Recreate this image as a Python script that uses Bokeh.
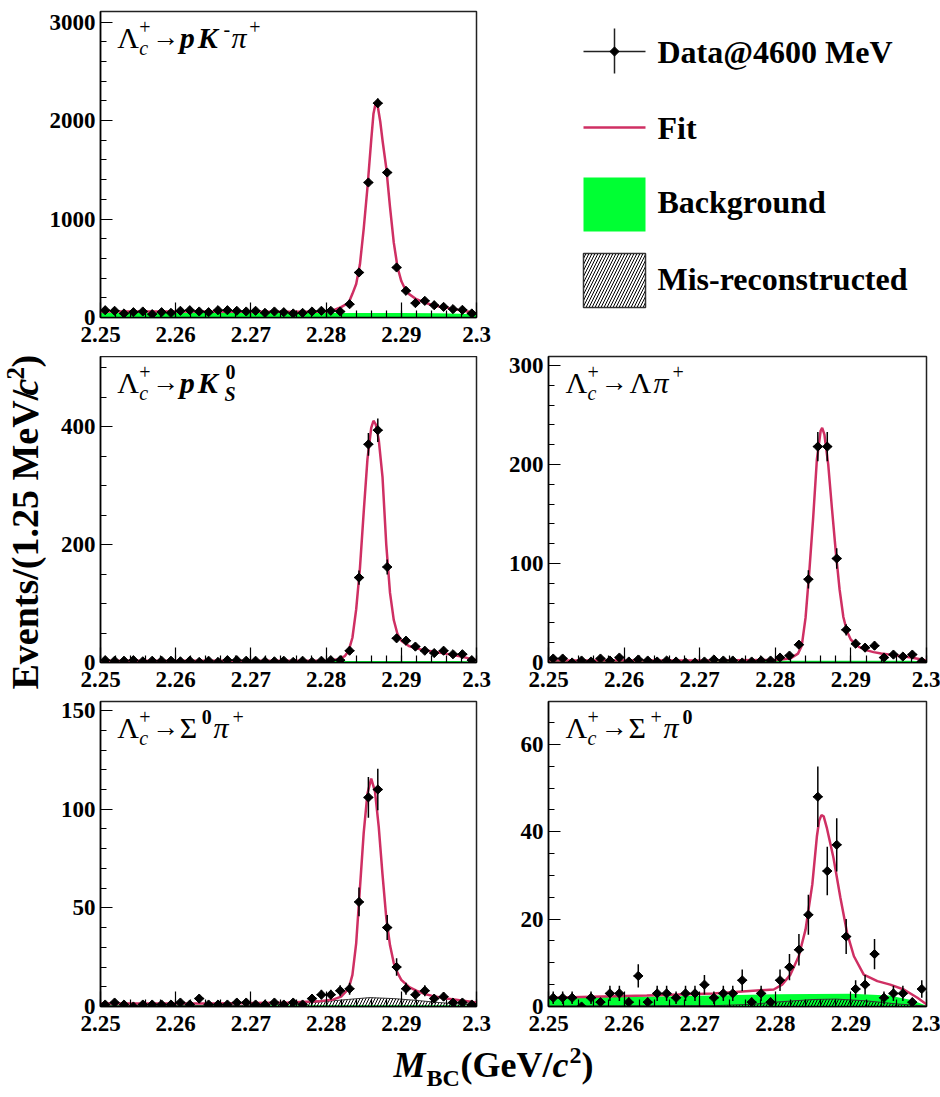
import numpy as np
from math import pi

from bokeh.plotting import figure
from bokeh.layouts import column, row
from bokeh.models import Range1d, FixedTicker, CustomJSTickFormatter, Label
from bokeh.embed import file_html
from bokeh.resources import INLINE

# ---------------- binning (1.25 MeV bins) ----------------
M_LO, M_HI = 2.25, 2.30
N_BINS = 40
BIN_W = (M_HI - M_LO) / N_BINS
bin_centers = M_LO + BIN_W * (np.arange(N_BINS) + 0.5)

# ---------------- event counts per bin ----------------
counts_pkpi = [74, 68, 41, 54, 61, 34, 54, 47, 68, 74, 61, 54, 74, 74, 68, 61, 68, 47, 61, 54,
               41, 47, 61, 68, 68, 61, 135, 457, 1371, 2176, 1472, 508, 271, 146, 169, 125, 108, 85, 78, 41]
counts_pks = [4, 3, 3, 4, 2, 3, 3, 3, 2, 3, 1, 3, 1, 4, 4, 3, 3, 2, 2, 3,
              1, 3, 1, 3, 4, 4, 20, 144, 370, 394, 162, 41, 37, 27, 20, 16, 20, 14, 14, 4]
counts_lpi = [4, 4, 0, 2, 1, 4, 2, 5, 1, 3, 2, 1, 2, 1, 0, 0, 1, 3, 2, 2,
              0, 1, 2, 2, 5, 7, 18, 84, 218, 218, 105, 33, 19, 15, 17, 5, 8, 6, 8, 1]
counts_s0pi = [1, 2, 1, 0, 1, 1, 1, 1, 2, 1, 4, 1, 1, 1, 2, 2, 1, 1, 2, 1,
               2, 1, 4, 6, 6, 8, 9, 53, 106, 110, 40, 20, 9, 6, 8, 4, 5, 2, 2, 1]
counts_spi0 = [2, 2, 2, 0, 2, 1, 3, 3, 1, 7, 1, 3, 3, 2, 3, 3, 5, 2, 3, 3,
               6, 1, 3, 1, 6, 9, 13, 21, 48, 31, 37, 16, 4, 5, 12, 2, 3, 3, 1, 4]

# ---------------- fit curves (total) ----------------
fit_x_pkpi = [2.250, 2.260, 2.270, 2.278, 2.280, 2.281, 2.282, 2.283, 2.2835, 2.284, 2.2845, 2.285,
              2.2855, 2.286, 2.2863, 2.2866, 2.2869, 2.2872, 2.2875, 2.288, 2.2885, 2.289, 2.2895,
              2.290, 2.2905, 2.291, 2.292, 2.293, 2.294, 2.295, 2.296, 2.297, 2.298, 2.299, 2.300]
fit_y_pkpi = [62, 60, 58, 58, 62, 75, 105, 150, 240, 340, 540, 900,
              1320, 1800, 2070, 2180, 2130, 1990, 1800, 1520, 1120, 760, 510,
              370, 290, 240, 185, 155, 130, 112, 98, 85, 72, 58, 38]

fit_x_pks = [2.250, 2.270, 2.280, 2.2815, 2.2825, 2.283, 2.2835, 2.284, 2.2845, 2.285, 2.2855, 2.286,
             2.2863, 2.2866, 2.287, 2.2875, 2.288, 2.2885, 2.289, 2.2895, 2.290, 2.291, 2.292, 2.293,
             2.294, 2.296, 2.298, 2.300]
fit_y_pks = [3, 3, 3.5, 5, 11, 20, 42, 90, 160, 255, 345, 398,
             410, 404, 378, 315, 200, 118, 72, 48, 37, 28, 24, 21,
             19, 15, 10, 4]

fit_x_lpi = [2.250, 2.270, 2.280, 2.282, 2.283, 2.2835, 2.284, 2.2845, 2.285, 2.2855, 2.286, 2.2862,
             2.2865, 2.287, 2.2875, 2.288, 2.2885, 2.289, 2.2895, 2.290, 2.291, 2.292, 2.293, 2.294,
             2.296, 2.298, 2.300]
fit_y_lpi = [2, 2, 2.5, 4, 9, 17, 45, 92, 145, 205, 234, 237,
             230, 200, 155, 112, 74, 46, 31, 23, 16, 12.5, 10.5, 9,
             7, 5, 2]

fit_x_s0pi = [2.250, 2.265, 2.275, 2.279, 2.281, 2.282, 2.283, 2.2835, 2.284, 2.2845, 2.285, 2.2855,
              2.2860, 2.2865, 2.287, 2.2875, 2.288, 2.2885, 2.289, 2.2895, 2.290, 2.291, 2.292,
              2.293, 2.294, 2.296, 2.298, 2.300]
fit_y_s0pi = [1.5, 1.5, 2.0, 2.6, 3.6, 5, 9, 16, 32, 60, 88, 108,
              115.5, 109, 91, 67, 45, 31, 22, 17, 13.5, 10, 8,
              6.5, 5.5, 4, 3, 2]

fit_x_spi0 = [2.250, 2.263, 2.2718, 2.2798, 2.2809, 2.282, 2.2831, 2.284, 2.2849, 2.2855, 2.2858,
              2.2861, 2.2864, 2.2868, 2.2877, 2.2886, 2.2895, 2.2904, 2.2917, 2.2935, 2.2952, 2.297,
              2.2988, 2.300]
fit_y_spi0 = [2.0, 2.5, 3.0, 3.9, 5.0, 7.3, 11.5, 17.6, 28, 38.9, 42.5,
              43.8, 43.5, 41, 34, 25, 16.8, 11.5, 7.3, 5.8, 5.0, 3.9,
              2.0, 0.5]

# ---------------- background components ----------------
bkg_x_pkpi = [2.25, 2.27, 2.29, 2.295, 2.298, 2.30]
bkg_y_pkpi = [48, 47, 45, 42, 38, 30]
bkg_x_pks = [2.25, 2.298, 2.30]
bkg_y_pks = [2.5, 2.5, 1.0]
bkg_x_lpi = [2.25, 2.298, 2.30]
bkg_y_lpi = [1.8, 1.8, 0.8]
bkg_x_s0pi = [2.25, 2.298, 2.30]
bkg_y_s0pi = [0.6, 0.6, 0.3]
bkg_x_spi0 = [2.25, 2.265, 2.28, 2.29, 2.295, 2.298, 2.30]
bkg_y_spi0 = [2.0, 2.3, 2.8, 2.9, 2.5, 1.5, 0.2]

# mis-reconstructed peaking component
mis_x_s0pi = [2.25, 2.265, 2.272, 2.276, 2.28, 2.283, 2.2858, 2.289, 2.292, 2.295, 2.298, 2.30]
mis_y_s0pi = [0.3, 0.4, 0.8, 1.5, 2.6, 3.6, 4.5, 4.0, 3.1, 2.0, 1.2, 0.8]
mis_x_spi0 = [2.25, 2.272, 2.277, 2.28, 2.285, 2.288, 2.292, 2.296, 2.30]
mis_y_spi0 = [0.1, 0.2, 0.5, 1.0, 1.6, 1.7, 1.3, 0.6, 0.1]

# ---------------- axis ticks ----------------
x_major = [2.25, 2.26, 2.27, 2.28, 2.29, 2.30]
x_minor = [round(2.25 + 0.002 * k, 3) for k in range(26)]

FONT = "Liberation Serif"
FIT_COLOR = "#CF2F63"
BKG_COLOR = "#00FF33"
# Label puts its anchor near the middle of the line box; this shifts it back to the baseline
BASE_SHIFT = 0.34

TITLE_HEAD = [("Λ", 0, 0, 30, "normal"), ("+", 22, -14, 20, "normal"),
              ("c", 22, 7, 20, "italic"), ("→", 35, -1, 27, "normal")]
title_pkpi = TITLE_HEAD + [("p", 63, 0, 30, "bold italic"), ("K", 81, 0, 30, "bold italic"),
                           ("-", 107, -12, 20, "normal"), ("π", 115, 0, 30, "italic"),
                           ("+", 133, -14, 20, "normal")]
title_pks = TITLE_HEAD + [("p", 63, 0, 30, "bold italic"), ("K", 81, 0, 30, "bold italic"),
                          ("0", 109, -14, 20, "bold"), ("S", 108, 8, 20, "bold italic")]
title_lpi = TITLE_HEAD + [("Λ", 64, 0, 30, "normal"), ("π", 88, 0, 30, "italic"),
                          ("+", 107, -14, 20, "normal")]
title_s0pi = TITLE_HEAD + [("Σ", 63, 0, 30, "normal"), ("0", 85, -14, 20, "bold"),
                           ("π", 97, 0, 30, "italic"), ("+", 116, -14, 20, "normal")]
title_spi0 = TITLE_HEAD + [("Σ", 63, 0, 30, "normal"), ("+", 85, -14, 20, "normal"),
                           ("π", 98, 0, 30, "italic"), ("0", 117, -14, 20, "bold")]


def panel(counts, fit_x, fit_y, bkg_x, bkg_y, mis_x, mis_y, y_top, y_major, y_minor,
          title, width, height, bl, br, bt, bb):
    p = figure(width=width, height=height, x_range=Range1d(M_LO, M_HI), y_range=Range1d(0, y_top),
               min_border_left=bl, min_border_right=br, min_border_top=bt, min_border_bottom=bb,
               toolbar_location=None, output_backend="svg", title=None)
    p.background_fill_color = "white"
    p.border_fill_color = "white"
    p.grid.visible = False
    p.outline_line_color = "#222222"
    p.outline_line_width = 1.5

    # background components, both drawn from zero
    p.varea(x=bkg_x, y1=0, y2=bkg_y, fill_color=BKG_COLOR, fill_alpha=1.0)
    if mis_x is not None:
        p.varea(x=mis_x, y1=0, y2=mis_y, fill_alpha=0.0, hatch_pattern="/",
                hatch_color="black", hatch_scale=6, hatch_weight=1)
        p.line(mis_x, mis_y, line_color="#333333", line_width=1)
    p.line(fit_x, fit_y, line_color=FIT_COLOR, line_width=2.5)

    n = np.asarray(counts, dtype=float)
    err = np.sqrt(n)
    p.segment(x0=bin_centers, y0=n - err, x1=bin_centers, y1=n + err, line_color="black", line_width=1.5)
    p.segment(x0=bin_centers - BIN_W / 2, y0=n, x1=bin_centers + BIN_W / 2, y1=n,
              line_color="black", line_width=1.5)
    p.scatter(bin_centers, n, marker="square", angle=pi / 4, size=6.5, fill_color="black", line_color="black")

    xa, ya = p.xaxis[0], p.yaxis[0]
    xa.ticker = FixedTicker(ticks=x_major, minor_ticks=x_minor)
    xa.formatter = CustomJSTickFormatter(code="return String(Math.round(tick * 100) / 100);")
    ya.ticker = FixedTicker(ticks=y_major, minor_ticks=y_minor)
    for ax in (xa, ya):
        ax.axis_line_color = "black"
        ax.axis_line_width = 1.5
        ax.major_tick_line_color = "black"
        ax.minor_tick_line_color = "black"
        ax.major_tick_line_width = 1.2
        ax.minor_tick_line_width = 1.2
        ax.major_tick_out = 0
        ax.minor_tick_out = 0
        ax.major_label_text_font = FONT
        ax.major_label_text_font_style = "bold"
        ax.major_label_text_font_size = "23px"
        ax.major_label_text_color = "black"
    xa.major_tick_in = 15
    xa.minor_tick_in = 7
    xa.major_label_standoff = 9
    ya.major_tick_in = 12
    ya.minor_tick_in = 6
    ya.major_label_standoff = 5

    # decay-channel caption, placed in frame pixels
    fw = width - bl - br
    fh = height - bt - bb
    x0, y0 = 17, 36
    for txt, dx, dy, size, style in title:
        xd = M_LO + (x0 + dx) / fw * (M_HI - M_LO)
        yd = y_top - (y0 + dy - BASE_SHIFT * size) / fh * y_top
        p.add_layout(Label(x=xd, y=yd, text=txt, text_font=FONT, text_font_size=f"{size}px",
                           text_font_style=style, text_color="black",
                           text_align="left", text_baseline="alphabetic"))
    return p


LW, RW = 454, 440
# left column: frames at y 11-317, 356-662, 701-1006
p1 = panel(counts_pkpi, fit_x_pkpi, fit_y_pkpi, bkg_x_pkpi, bkg_y_pkpi, None, None, 3107,
           [0, 1000, 2000, 3000], [200 * k for k in range(16)], title_pkpi, LW, 356, 51, 24, 11, 39)
p2 = panel(counts_pks, fit_x_pks, fit_y_pks, bkg_x_pks, bkg_y_pks, None, None, 519,
           [0, 200, 400], [50 * k for k in range(11)], title_pks, LW, 341, 51, 24, 0, 35)
p4 = panel(counts_s0pi, fit_x_s0pi, fit_y_s0pi, bkg_x_s0pi, bkg_y_s0pi, mis_x_s0pi, mis_y_s0pi, 154.6,
           [0, 50, 100, 150], [10 * k for k in range(16)], title_s0pi, LW, 345, 51, 24, 4, 36)
# right column: legend, then frames at y 356-662 and 701-1006
p3 = panel(counts_lpi, fit_x_lpi, fit_y_lpi, bkg_x_lpi, bkg_y_lpi, None, None, 309,
           [0, 100, 200, 300], [20 * k for k in range(16)], title_lpi, RW, 354, 48, 14, 11, 37)
p5 = panel(counts_spi0, fit_x_spi0, fit_y_spi0, bkg_x_spi0, bkg_y_spi0, mis_x_spi0, mis_y_spi0, 69.8,
           [0, 20, 40, 60], [5 * k for k in range(14)], title_spi0, RW, 343, 48, 14, 2, 36)


def blank(width, height, x_lo, x_hi, y_top, y_bottom, bl=0, br=0, bt=0, bb=0):
    """Axis-free figure whose data coordinates are page pixels."""
    f = figure(width=width, height=height, x_range=Range1d(x_lo, x_hi), y_range=Range1d(y_bottom, y_top),
               x_axis_type=None, y_axis_type=None, toolbar_location=None, output_backend="svg",
               title=None, min_border=0, min_border_left=bl, min_border_right=br,
               min_border_top=bt, min_border_bottom=bb)
    f.grid.visible = False
    f.outline_line_color = None
    f.background_fill_color = "white"
    f.border_fill_color = "white"
    return f


def put(f, x, y, txt, size, style="bold", angle=0.0):
    """Text whose alphabetic baseline passes through (x, y) in page pixels."""
    if angle:
        x = x - BASE_SHIFT * size
    else:
        y = y - BASE_SHIFT * size
    f.add_layout(Label(x=x, y=y, text=txt, text_font=FONT, text_font_size=f"{size}px",
                       text_font_style=style, text_color="black", angle=angle,
                       text_align="left", text_baseline="alphabetic"))


# ---------------- legend box (frame 548..926 x 11..317 on the page) ----------------
leg = blank(RW, 345, 548, 926, 11, 317, bl=48, br=14, bt=11, bb=28)
leg.segment(x0=[583], y0=[51], x1=[645], y1=[51], line_color="#222222", line_width=1.5)
leg.segment(x0=[614], y0=[28], x1=[614], y1=[73], line_color="#222222", line_width=1.5)
leg.scatter([614], [51], marker="square", angle=pi / 4, size=6.5, fill_color="black", line_color="black")
leg.segment(x0=[583], y0=[127], x1=[645], y1=[127], line_color=FIT_COLOR, line_width=2.5)
leg.quad(left=[583], right=[645], top=[177], bottom=[231], fill_color=BKG_COLOR, line_color=None)
leg.quad(left=[583], right=[645], top=[253], bottom=[307], fill_color="white", hatch_pattern="/",
         hatch_color="black", hatch_scale=6, hatch_weight=1, line_color="#333333", line_width=1.5)
put(leg, 657, 62, "Data@4600 MeV", 32)
put(leg, 657, 138, "Fit", 32)
put(leg, 657, 212, "Background", 32)
put(leg, 657, 289, "Mis-reconstructed", 32)

# ---------------- shared axis titles ----------------
ylab = blank(46, 1042, 0, 46, 11, 1006, bt=11, bb=36)
put(ylab, 37, 689, "Events/(1.25 MeV/", 38, "bold", pi / 2)
put(ylab, 37, 395, "c", 38, "bold italic", pi / 2)
put(ylab, 23, 379, "2", 25, "bold", pi / 2)
put(ylab, 37, 367, ")", 38, "bold", pi / 2)

xlab = blank(940, 55, 0, 940, 1042, 1097)
put(xlab, 393, 1077, "M", 36, "bold italic")
put(xlab, 426, 1086, "BC", 24, "bold")
put(xlab, 460, 1077, "(GeV/", 36, "bold")
put(xlab, 552, 1077, "c", 36, "bold italic")
put(xlab, 569, 1063, "2", 24, "bold")
put(xlab, 581, 1077, ")", 36, "bold")

layout = column(
    row(ylab, column(p1, p2, p4), column(leg, p3, p5)),
    xlab,
)

open("out.html", "w").write(file_html(layout, INLINE))
